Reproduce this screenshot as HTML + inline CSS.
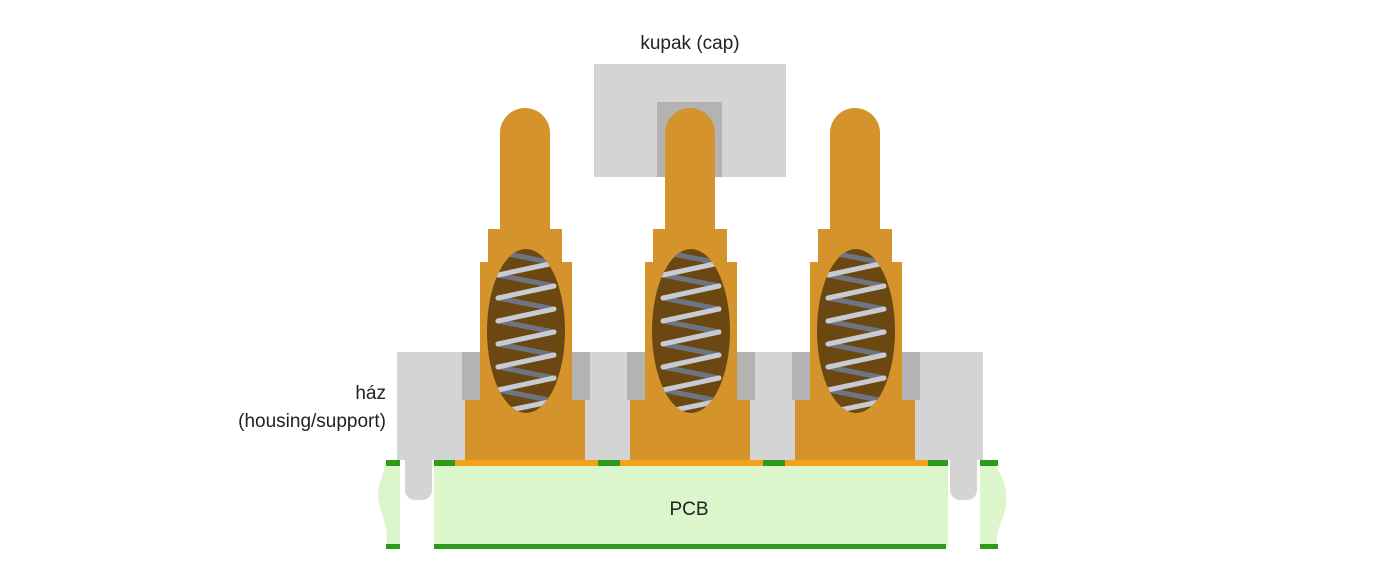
<!DOCTYPE html>
<html><head><style>
html,body{margin:0;padding:0;background:#fff;}
svg{display:block;}
text{font-family:"Liberation Sans",sans-serif;font-size:19px;fill:#222;}
</style></head><body>
<svg width="1400" height="584" viewBox="0 0 1400 584" xmlns="http://www.w3.org/2000/svg">
<defs>
  <g id="pin">
    <path d="M500,133 A25,25 0 0 1 550,133 L550,229 L562,229 L562,262 L572,262 L572,400 L585,400 L585,460 L465,460 L465,400 L480,400 L480,262 L488,262 L488,229 L500,229 Z" fill="#d4932b"/>
    <ellipse cx="526" cy="331" rx="39" ry="82" fill="#6b4712"/>
    <clipPath id="ec"><ellipse cx="526" cy="331" rx="39" ry="82"/></clipPath>
    <g clip-path="url(#ec)" stroke-linecap="round" stroke-width="5">
      <g stroke="#6e7582">
        <line x1="498" y1="252" x2="554" y2="263"/>
        <line x1="498" y1="275" x2="554" y2="286"/>
        <line x1="498" y1="298" x2="554" y2="309"/>
        <line x1="498" y1="321" x2="554" y2="332"/>
        <line x1="498" y1="344" x2="554" y2="355"/>
        <line x1="498" y1="367" x2="554" y2="378"/>
        <line x1="498" y1="390" x2="554" y2="401"/>
      </g>
      <g stroke="#c9cbd3">
        <line x1="498" y1="275" x2="554" y2="263"/>
        <line x1="498" y1="298" x2="554" y2="286"/>
        <line x1="498" y1="321" x2="554" y2="309"/>
        <line x1="498" y1="344" x2="554" y2="332"/>
        <line x1="498" y1="367" x2="554" y2="355"/>
        <line x1="498" y1="390" x2="554" y2="378"/>
        <line x1="505" y1="411" x2="554" y2="401"/>
      </g>
    </g>
  </g>
</defs>

<!-- cap -->
<rect x="594" y="64" width="192" height="113" fill="#d4d4d4"/>
<rect x="657" y="102" width="65" height="75" fill="#b3b3b3"/>

<!-- housing -->
<rect x="397" y="352" width="586" height="108" fill="#d4d4d4"/>
<rect x="462" y="352" width="128" height="48" fill="#b3b3b3"/>
<rect x="627" y="352" width="128" height="48" fill="#b3b3b3"/>
<rect x="792" y="352" width="128" height="48" fill="#b3b3b3"/>
<path d="M405,460 L432,460 L432,490 A10,10 0 0 1 422,500 L415,500 A10,10 0 0 1 405,490 Z" fill="#d4d4d4"/>
<path d="M950,460 L977,460 L977,490 A10,10 0 0 1 967,500 L960,500 A10,10 0 0 1 950,490 Z" fill="#d4d4d4"/>

<!-- PCB -->
<rect x="434" y="465" width="514" height="82" fill="#dbf6cb"/>
<path d="M384,466 L400,466 L400,546 L386,546 C390,525 378,510 378,495 C378,480 386,472 384,466 Z" fill="#dbf6cb"/>
<path d="M980,466 L996,466 C1004,480 1008,490 1006,505 C1004,520 995,530 997,546 L980,546 Z" fill="#dbf6cb"/>
<rect x="434" y="460" width="514" height="6" fill="#2d9a1c"/>
<rect x="455" y="460" width="143" height="6" fill="#f5a21b"/>
<rect x="620" y="460" width="143" height="6" fill="#f5a21b"/>
<rect x="785" y="460" width="143" height="6" fill="#f5a21b"/>
<rect x="434" y="544" width="512" height="5" fill="#2d9a1c"/>
<rect x="386" y="460" width="14" height="6" fill="#2d9a1c"/>
<rect x="386" y="544" width="14" height="5" fill="#2d9a1c"/>
<rect x="980" y="460" width="18" height="6" fill="#2d9a1c"/>
<rect x="980" y="544" width="18" height="5" fill="#2d9a1c"/>

<!-- pins -->
<use href="#pin"/>
<use href="#pin" transform="translate(165,0)"/>
<use href="#pin" transform="translate(330,0)"/>

<!-- labels -->
<text x="690" y="49" text-anchor="middle">kupak (cap)</text>
<text x="386" y="399" text-anchor="end">ház</text>
<text x="386" y="427" text-anchor="end">(housing/support)</text>
<text x="689" y="515" text-anchor="middle">PCB</text>
</svg>
</body></html>
